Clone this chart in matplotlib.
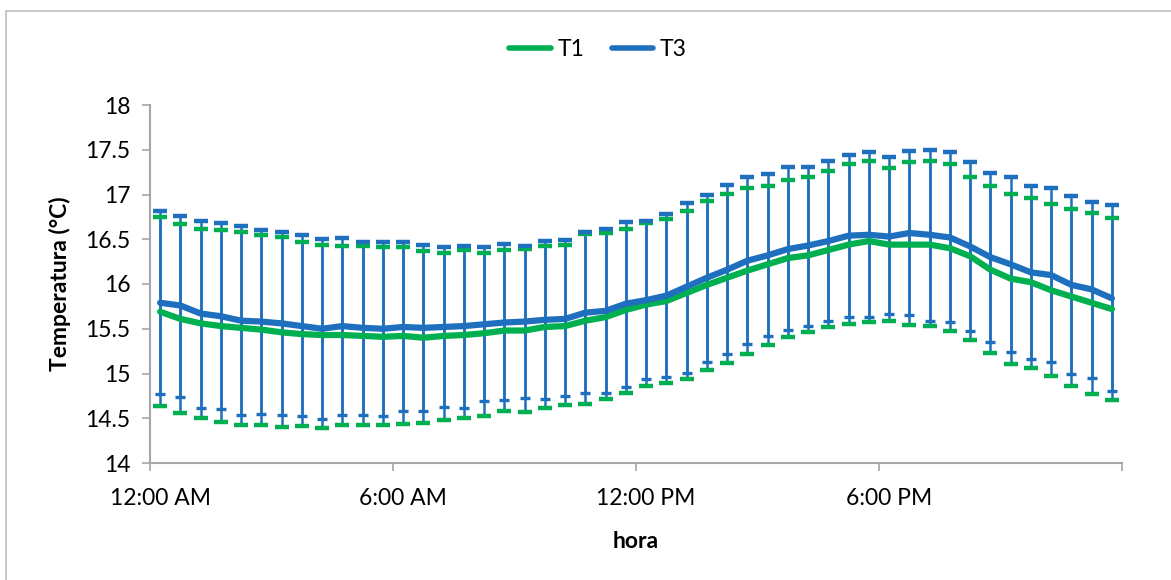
import numpy as np
import matplotlib
matplotlib.use("Agg")
import matplotlib.pyplot as plt
from matplotlib.patches import Rectangle

plt.rcParams['font.family'] = ['Lato', 'DejaVu Sans']

# half-hourly readings, 00:00 .. 23:30
tick_labels = ['12:00 AM', '6:00 AM', '12:00 PM', '6:00 PM']

t1_mean = [15.69, 15.61, 15.56, 15.53, 15.51, 15.49, 15.46, 15.44,
           15.43, 15.43, 15.42, 15.41, 15.42, 15.40, 15.42, 15.43,
           15.45, 15.48, 15.48, 15.52, 15.53, 15.59, 15.63, 15.71,
           15.77, 15.81, 15.90, 15.99, 16.07, 16.15, 16.22, 16.29,
           16.32, 16.38, 16.44, 16.48, 16.44, 16.44, 16.44, 16.40,
           16.31, 16.16, 16.06, 16.02, 15.93, 15.86, 15.79, 15.72]
t1_upper = [16.75, 16.67, 16.62, 16.60, 16.58, 16.55, 16.52, 16.47,
            16.44, 16.43, 16.42, 16.41, 16.41, 16.37, 16.35, 16.38,
            16.35, 16.38, 16.39, 16.43, 16.44, 16.56, 16.57, 16.62,
            16.68, 16.73, 16.82, 16.93, 17.01, 17.07, 17.10, 17.16,
            17.20, 17.26, 17.34, 17.37, 17.30, 17.36, 17.37, 17.34,
            17.20, 17.09, 17.01, 16.96, 16.89, 16.84, 16.79, 16.74]
t1_lower = [14.64, 14.56, 14.50, 14.46, 14.42, 14.43, 14.40, 14.41,
            14.39, 14.43, 14.42, 14.42, 14.44, 14.45, 14.48, 14.50,
            14.53, 14.58, 14.57, 14.62, 14.65, 14.66, 14.71, 14.78,
            14.86, 14.89, 14.94, 15.04, 15.12, 15.22, 15.32, 15.41,
            15.46, 15.52, 15.55, 15.57, 15.59, 15.54, 15.53, 15.47,
            15.37, 15.23, 15.11, 15.06, 14.97, 14.86, 14.77, 14.70]

t3_mean = [15.79, 15.76, 15.67, 15.64, 15.59, 15.58, 15.56, 15.53,
           15.50, 15.53, 15.51, 15.50, 15.52, 15.51, 15.52, 15.53,
           15.55, 15.57, 15.58, 15.60, 15.61, 15.68, 15.70, 15.78,
           15.82, 15.87, 15.97, 16.07, 16.16, 16.26, 16.32, 16.39,
           16.43, 16.48, 16.54, 16.55, 16.53, 16.57, 16.55, 16.52,
           16.42, 16.30, 16.22, 16.13, 16.10, 15.99, 15.94, 15.84]
t3_upper = [16.82, 16.76, 16.70, 16.68, 16.65, 16.60, 16.58, 16.55,
            16.50, 16.51, 16.47, 16.47, 16.47, 16.44, 16.41, 16.43,
            16.41, 16.45, 16.43, 16.48, 16.49, 16.58, 16.62, 16.69,
            16.70, 16.78, 16.91, 16.99, 17.11, 17.19, 17.23, 17.31,
            17.31, 17.37, 17.44, 17.48, 17.42, 17.49, 17.50, 17.48,
            17.36, 17.24, 17.19, 17.10, 17.07, 16.98, 16.92, 16.88]
t3_lower = [14.77, 14.74, 14.62, 14.60, 14.54, 14.55, 14.54, 14.52,
            14.49, 14.54, 14.54, 14.53, 14.58, 14.58, 14.63, 14.62,
            14.69, 14.70, 14.73, 14.72, 14.75, 14.78, 14.78, 14.85,
            14.94, 14.96, 15.01, 15.13, 15.22, 15.33, 15.42, 15.49,
            15.53, 15.59, 15.63, 15.63, 15.67, 15.65, 15.59, 15.57,
            15.48, 15.35, 15.24, 15.16, 15.13, 14.99, 14.95, 14.81]

GREEN = '#00B050'
BLUE = '#1F6FBF'
AXIS_GRAY = '#A6A6A6'
FS = 16.5

fig = plt.figure(figsize=(11.71, 5.80), dpi=100)
ax = fig.add_axes([150 / 1171, 117 / 580, 972 / 1171, 358 / 580])

x = np.arange(len(t1_mean)) + 0.5

def draw_series(mean, upper, lower, color, cap_lo, cap_hi, z):
    mean = np.array(mean)
    err = [mean - np.array(lower), np.array(upper) - mean]
    _, caps, bars = ax.errorbar(x, mean, yerr=err, fmt='none', ecolor=BLUE,
                                elinewidth=1.8, capsize=5, capthick=2.8,
                                zorder=z)
    bars[0].set_zorder(2)
    # caps come back as (lower, upper)
    for c, (size, thick) in zip(caps, [cap_lo, cap_hi]):
        c.set_markeredgecolor(color)
        c.set_markerfacecolor(color)
        c.set_markersize(size)
        c.set_markeredgewidth(thick)
        c.set_zorder(z)

draw_series(t1_mean, t1_upper, t1_lower, GREEN, (10.5, 3.2), (10.5, 3.2), 3)
draw_series(t3_mean, t3_upper, t3_lower, BLUE, (6.5, 2.4), (10.5, 3.2), 3.5)

ax.plot(x, t1_mean, color=GREEN, lw=4.5, solid_capstyle='round',
        solid_joinstyle='round', label='T1', zorder=5)
ax.plot(x, t3_mean, color=BLUE, lw=4.5, solid_capstyle='round',
        solid_joinstyle='round', label='T3', zorder=6)

ax.set_xlim(0, 48)
ax.set_ylim(14, 18)
ax.set_yticks(np.arange(14, 18.01, 0.5))
ax.set_yticklabels(['14', '14.5', '15', '15.5', '16', '16.5', '17', '17.5', '18'])
ax.set_xticks([0, 12, 24, 36, 48])
ax.set_xticklabels([])
ax.set_xticks([0.5, 12.5, 24.5, 36.5], minor=True)
ax.set_xticklabels(tick_labels, minor=True)
ax.tick_params(axis='x', which='minor', length=0, pad=18, labelsize=FS)
ax.tick_params(axis='x', which='major', length=6, width=1.2, color=AXIS_GRAY)
ax.tick_params(axis='y', length=6, width=1.2, color=AXIS_GRAY, labelsize=FS,
               pad=8)

for s in ['top', 'right']:
    ax.spines[s].set_visible(False)
for s in ['left', 'bottom']:
    ax.spines[s].set_color(AXIS_GRAY)
    ax.spines[s].set_linewidth(1.5)

ax.set_ylabel('Temperatura (°C)', fontsize=FS, fontweight='bold', labelpad=10)
ax.set_xlabel('hora', fontsize=FS, fontweight='bold', labelpad=16)

leg = fig.legend(loc='center', bbox_to_anchor=(598 / 1171, 1 - 50 / 580),
                 ncol=2, frameon=False, fontsize=FS, handlelength=1.8,
                 handletextpad=0.3, columnspacing=1.2)
for h in leg.get_lines():
    h.set_linewidth(4)

# chart border
fig.patches.append(Rectangle((6 / 1171, -0.05), 1.0, 1.05 - 11 / 580,
                             transform=fig.transFigure, fill=False,
                             edgecolor='#BFBFBF', lw=1.2))

fig.savefig('out.png', dpi=100)
